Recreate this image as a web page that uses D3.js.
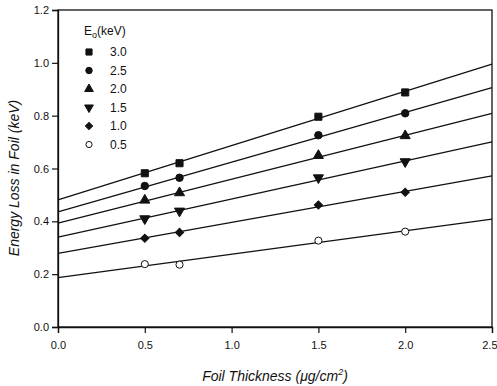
<!DOCTYPE html>
<html>
<head>
<meta charset="utf-8">
<script src="https://cdn.jsdelivr.net/npm/d3@7"></script>
<style>
  body { margin: 0; background: #fff; }
  svg { display: block; font-family: 'Liberation Sans', Arial, sans-serif; }
</style>
</head>
<body>
<svg id="chart"></svg>
<script>
var energies = ['3.0', '2.5', '2.0', '1.5', '1.0', '0.5'],
  thickness = [0.5, 0.7, 1.5, 2.0],
  loss30 = [0.582, 0.620, 0.796, 0.888],
  loss25 = [0.534, 0.565, 0.726, 0.809],
  loss20 = [0.480, 0.508, 0.649, 0.724],
  loss15 = [0.410, 0.439, 0.565, 0.626],
  loss10 = [0.336, 0.358, 0.462, 0.510],
  loss05 = [0.238, 0.236, 0.327, 0.361],
  fitStart = [0.481, 0.436, 0.393, 0.340, 0.279, 0.187], // fit line at 0.0
  fitEnd = [0.995, 0.906, 0.809, 0.701, 0.572, 0.408],   // fit line at 2.5
  xTicks = [0, 0.5, 1.0, 1.5, 2.0, 2.5],
  yTicks = [0, 0.2, 0.4, 0.6, 0.8, 1.0, 1.2];

var allLoss = [loss30, loss25, loss20, loss15, loss10, loss05];

var width = 497,
  height = 386,
  margin = { top: 10, right: 5, bottom: 59, left: 58 },
  innerWidth = width - margin.left - margin.right,
  innerHeight = height - margin.top - margin.bottom;

var svg = d3.select('#chart').attr('width', width).attr('height', height);

var x = d3.scaleLinear().domain([0, 2.5]).range([0, innerWidth]),
  y = d3.scaleLinear().domain([0, 1.2]).range([innerHeight, 0]);

var g = svg.append('g').attr('transform', `translate(${margin.left}, ${margin.top})`);

// frame
g.append('rect')
  .attr('width', innerWidth)
  .attr('height', innerHeight)
  .attr('fill', 'none')
  .attr('stroke', '#111')
  .attr('stroke-width', 1.3);

var fmt = d3.format('.1f');
var xAxis = g.append('g')
  .attr('transform', 'translate(0,' + innerHeight + ')')
  .call(d3.axisBottom(x).tickValues(xTicks).tickFormat(fmt).tickSize(6).tickPadding(8));
var yAxis = g.append('g')
  .call(d3.axisLeft(y).tickValues(yTicks).tickFormat(fmt).tickSize(6).tickPadding(3));

[xAxis, yAxis].forEach(function (a) {
  a.select('.domain').attr('stroke', '#111').attr('stroke-width', 1.3);
  a.selectAll('.tick line').attr('stroke', '#111').attr('stroke-width', 1.2);
  a.selectAll('.tick text').attr('fill', '#111').style('font-size', '11px');
});
// last label sits at the window edge; keep it inside
xAxis.selectAll('.tick text').filter((d) => d === 2.5).attr('text-anchor', 'end').attr('dx', 5);

// fitted lines
g.selectAll('.fit')
  .data(energies)
  .enter()
  .append('line')
  .attr('class', 'fit')
  .attr('x1', x(0))
  .attr('x2', x(2.5))
  .attr('y1', (d, i) => y(fitStart[i]))
  .attr('y2', (d, i) => y(fitEnd[i]))
  .attr('stroke', '#111')
  .attr('stroke-width', 1.3);

var shapes = [
  { type: d3.symbolSquare, size: 50, rot: 0, fill: '#111' },
  { type: d3.symbolCircle, size: 44, rot: 0, fill: '#111' },
  { type: d3.symbolTriangle, size: 44, rot: 0, fill: '#111' },
  { type: d3.symbolTriangle, size: 44, rot: 180, fill: '#111' },
  { type: d3.symbolSquare, size: 34, rot: 45, fill: '#111' },
  { type: d3.symbolCircle, size: 40, rot: 0, fill: '#fff' }
];

function drawSymbol(sel, s, k) {
  sel.append('path')
    .attr('d', d3.symbol().type(s.type).size(s.size * k)())
    .attr('transform', 'rotate(' + s.rot + ')')
    .attr('fill', s.fill)
    .attr('stroke', '#111')
    .attr('stroke-width', 1);
}

allLoss.forEach(function (vals, i) {
  var pts = g.append('g').selectAll('g')
    .data(vals)
    .enter()
    .append('g')
    .attr('transform', (d, j) => `translate(${x(thickness[j])}, ${y(d)})`);
  pts.each(function () { drawSymbol(d3.select(this), shapes[i], 1); });
});

// legend
var legend = svg.append('g').attr('transform', 'translate(89, 0)');
var title = legend.append('text')
  .attr('x', -5)
  .attr('y', 35)
  .attr('fill', '#111')
  .style('font-size', '12px');
title.append('tspan').text('E');
title.append('tspan').attr('dy', 3).style('font-size', '9px').text('o');
title.append('tspan').attr('dy', -3).text('(keV)');

energies.forEach(function (e, i) {
  var row = legend.append('g').attr('transform', `translate(0, ${52 + i * 18.5})`);
  drawSymbol(row, shapes[i], 0.75);
  row.append('text')
    .attr('x', 21)
    .attr('dy', '0.35em')
    .attr('fill', '#111')
    .style('font-size', '12px')
    .text(e);
});

// axis titles
var xt = svg.append('text')
  .attr('x', margin.left + innerWidth / 2)
  .attr('y', 381)
  .attr('text-anchor', 'middle')
  .attr('fill', '#111')
  .style('font-size', '14px')
  .style('font-style', 'italic');
xt.append('tspan').text('Foil Thickness (\u03bcg/cm');
xt.append('tspan').attr('dy', -6).style('font-size', '9px').text('2');
xt.append('tspan').attr('dy', 6).text(')');

svg.append('text')
  .attr('transform', 'translate(19, 178) rotate(-90)')
  .attr('text-anchor', 'middle')
  .attr('fill', '#111')
  .style('font-size', '14px')
  .style('font-style', 'italic')
  .text('Energy Loss in Foil (keV)');
</script>
</body>
</html>
